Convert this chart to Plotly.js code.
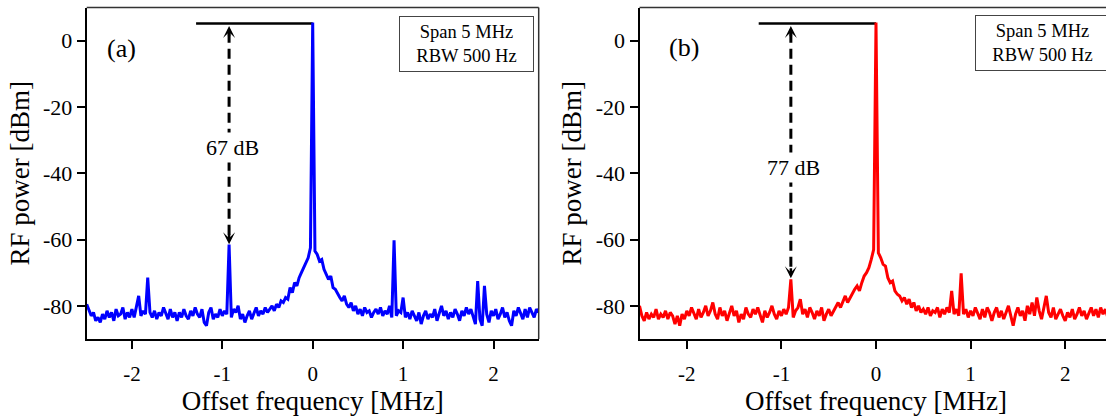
<!DOCTYPE html>
<html>
<head>
<meta charset="utf-8">
<script src="https://cdn.plot.ly/plotly-3.0.1.min.js"></script>
<style>
html,body{margin:0;padding:0;background:#fff;overflow:hidden;}
#chart{width:1114px;height:416px;}
</style>
</head>
<body>
<div id="chart"></div>
<script>
// Offset frequency grid [MHz]
const freq = [
-2.5,-2.475,-2.45,-2.425,-2.4,-2.375,-2.35,-2.325,-2.3,-2.275,
-2.25,-2.225,-2.2,-2.175,-2.15,-2.125,-2.1,-2.075,-2.05,-2.025,
-2.0,-1.975,-1.95,-1.925,-1.9,-1.875,-1.85,-1.825,-1.8,-1.775,
-1.75,-1.725,-1.7,-1.675,-1.65,-1.625,-1.6,-1.575,-1.55,-1.525,
-1.5,-1.475,-1.45,-1.425,-1.4,-1.375,-1.35,-1.325,-1.3,-1.275,
-1.25,-1.225,-1.2,-1.175,-1.15,-1.125,-1.1,-1.075,-1.05,-1.025,
-1.0,-0.975,-0.95,-0.925,-0.9,-0.875,-0.85,-0.825,-0.8,-0.775,
-0.75,-0.725,-0.7,-0.675,-0.65,-0.625,-0.6,-0.575,-0.55,-0.525,
-0.5,-0.475,-0.45,-0.425,-0.4,-0.375,-0.35,-0.325,-0.3,-0.275,
-0.25,-0.225,-0.2,-0.175,-0.15,-0.125,-0.1,-0.075,-0.05,-0.025,
0.0,0.025,0.05,0.075,0.1,0.125,0.15,0.175,0.2,0.225,
0.25,0.275,0.3,0.325,0.35,0.375,0.4,0.425,0.45,0.475,
0.5,0.525,0.55,0.575,0.6,0.625,0.65,0.675,0.7,0.725,
0.75,0.775,0.8,0.825,0.85,0.875,0.9,0.925,0.95,0.975,
1.0,1.025,1.05,1.075,1.1,1.125,1.15,1.175,1.2,1.225,
1.25,1.275,1.3,1.325,1.35,1.375,1.4,1.425,1.45,1.475,
1.5,1.525,1.55,1.575,1.6,1.625,1.65,1.675,1.7,1.725,
1.75,1.775,1.8,1.825,1.85,1.875,1.9,1.925,1.95,1.975,
2.0,2.025,2.05,2.075,2.1,2.125,2.15,2.175,2.2,2.225,
2.25,2.275,2.3,2.325,2.35,2.375,2.4,2.425,2.45,2.475,
2.5
];

// Panel (a) RF power [dBm]
const powerA = [
-79.5,-81.5,-83.0,-82.0,-84.5,-83.5,-85.0,-82.5,-84.0,-81.5,
-83.5,-82.0,-84.5,-81.0,-83.0,-82.5,-80.5,-84.0,-82.0,-83.5,
-81.0,-83.5,-80.5,-77.0,-83.0,-81.5,-82.5,-71.5,-82.0,-83.5,
-81.5,-84.0,-82.0,-83.0,-80.5,-82.5,-84.0,-81.0,-83.5,-82.0,
-84.5,-82.0,-83.5,-81.0,-83.0,-84.0,-81.5,-83.0,-80.5,-82.5,
-83.5,-81.0,-85.0,-86.0,-82.0,-80.5,-84.0,-82.5,-83.5,-81.0,
-83.0,-81.5,-82.5,-61.5,-83.5,-81.0,-82.0,-80.0,-84.0,-82.5,
-85.0,-83.0,-81.5,-84.0,-82.0,-80.5,-83.0,-81.5,-82.5,-80.5,
-82.0,-81.0,-80.0,-81.5,-79.5,-80.5,-78.5,-79.0,-77.5,-78.0,
-74.5,-76.0,-73.0,-74.0,-71.5,-70.0,-68.5,-67.0,-65.5,-62.5,
5.5,-63.5,-64.5,-66.5,-66.0,-69.0,-70.5,-72.0,-71.0,-74.5,
-75.0,-76.5,-77.5,-78.5,-77.0,-79.5,-80.5,-79.0,-81.5,-80.0,
-82.5,-81.0,-83.0,-80.5,-82.0,-81.5,-83.5,-82.0,-81.0,-82.5,
-80.5,-83.0,-81.5,-82.5,-80.0,-83.5,-60.2,-83.0,-81.5,-82.0,
-77.5,-83.5,-82.0,-84.0,-81.5,-83.0,-84.5,-82.0,-85.5,-83.0,
-81.5,-84.0,-82.5,-83.5,-81.0,-84.5,-82.0,-80.0,-83.0,-81.5,
-84.0,-82.0,-83.5,-81.0,-82.5,-84.5,-81.5,-83.0,-80.5,-82.5,
-81.0,-83.5,-85.5,-72.5,-84.0,-86.0,-74.0,-82.5,-85.0,-81.5,
-83.0,-81.0,-84.0,-82.5,-80.5,-83.5,-82.0,-84.5,-86.0,-81.5,
-83.0,-80.5,-82.5,-84.0,-81.0,-83.5,-80.5,-82.0,-83.5,-81.0,
-82.0
];

// Panel (b) RF power [dBm]
const powerB = [
-80.0,-83.0,-84.5,-82.0,-84.0,-82.5,-83.5,-81.0,-84.0,-82.5,
-83.5,-81.5,-84.0,-82.0,-83.0,-85.5,-83.0,-86.0,-82.5,-84.0,
-81.5,-83.0,-80.5,-82.5,-84.0,-81.0,-83.5,-82.0,-80.0,-83.0,
-81.5,-79.0,-82.5,-84.0,-80.5,-83.0,-81.5,-84.5,-82.0,-80.0,
-83.0,-81.5,-85.0,-82.5,-84.0,-80.5,-82.5,-83.5,-81.0,-82.5,
-80.5,-83.0,-85.0,-81.5,-83.5,-82.0,-80.0,-82.5,-84.0,-81.5,
-83.0,-81.0,-82.5,-80.5,-72.0,-83.5,-81.5,-80.5,-78.0,-82.5,
-81.0,-83.5,-80.5,-82.0,-84.0,-81.5,-83.0,-80.5,-84.5,-82.5,
-81.0,-83.0,-81.5,-80.0,-79.0,-80.5,-78.5,-77.0,-79.0,-77.5,
-76.5,-75.0,-74.0,-75.5,-73.0,-71.0,-70.0,-68.5,-66.0,-63.0,
5.5,-64.0,-65.5,-67.5,-68.0,-71.5,-73.0,-72.5,-75.5,-76.5,
-77.0,-78.5,-77.5,-79.5,-78.0,-80.5,-79.0,-81.5,-80.0,-82.0,
-81.0,-82.5,-80.5,-83.0,-81.5,-82.0,-80.5,-83.5,-81.0,-82.5,
-80.5,-82.0,-75.5,-82.5,-81.0,-83.0,-70.2,-82.5,-81.0,-83.5,
-81.5,-83.0,-80.5,-82.5,-84.0,-81.0,-83.5,-80.5,-82.0,-84.5,
-82.0,-80.5,-83.5,-81.5,-84.0,-82.0,-80.0,-83.0,-86.0,-82.5,
-80.5,-83.0,-81.5,-84.5,-80.0,-82.5,-79.0,-83.0,-77.5,-81.5,
-84.0,-80.5,-77.0,-82.0,-83.5,-80.5,-84.0,-82.5,-81.0,-83.0,
-84.5,-82.0,-83.5,-81.0,-84.0,-82.5,-80.5,-83.0,-81.5,-84.0,
-82.0,-80.5,-83.0,-81.0,-83.5,-80.5,-82.5,-81.0,-83.5,-80.5,
-82.0
];

// Annotation values
const carrierLevel = 5.2;            // dBm, carrier reference line
const refLineStart = [-1.29, -1.24]; // MHz, left end of the reference line
const spurFreq = [-0.925, -0.9];     // MHz, marked sideband
const spurTip = [-61.4, -71.7];      // dBm, lower arrow tip
const arrowTopTip = 4.4;             // dBm, upper arrow tip
const gapLabels = ['67 dB', '77 dB'];
const gapLabelLevel = [-32.3, -38.3];
const panelLabels = ['(a)', '(b)'];
const boxText = 'Span 5 MHz<br>RBW 500 Hz';
const xTicks = [-2, -1, 0, 1, 2];
const yTicks = [-80, -60, -40, -20, 0];
const xRange = [-2.5, 2.5];
const yRange = [-90, 10];
const traceColors = ['#0000ff', '#ff0000'];

const FONT = 'Liberation Serif, Times New Roman, serif';
const W = 1114;

const powers = [powerA, powerB];
const axNames = [['x', 'y'], ['x2', 'y2']];
const traces = [];
for (let p = 0; p < 2; p++) {
  const [xa, ya] = axNames[p];
  traces.push({x: [refLineStart[p], 0], y: [carrierLevel, carrierLevel], xaxis: xa, yaxis: ya,
    mode: 'lines', line: {color: '#000', width: 2.5}, hoverinfo: 'skip'});
  traces.push({x: [spurFreq[p], spurFreq[p]], y: [arrowTopTip - 2, spurTip[p] + 2], xaxis: xa, yaxis: ya,
    mode: 'lines', line: {color: '#000', width: 3, dash: '10px,6px'}, hoverinfo: 'skip'});
  traces.push({x: freq, y: powers[p], xaxis: xa, yaxis: ya, mode: 'lines',
    line: {color: traceColors[p], width: 3}});
}

function xAxis(domain, anchor) {
  return {domain: domain, anchor: anchor, range: xRange, tickvals: xTicks, ticktext: xTicks.map(String),
    showline: true, linecolor: '#000', linewidth: 2, ticks: 'outside', ticklen: 8, tickwidth: 2,
    tickcolor: '#000', showgrid: false, zeroline: false, automargin: false, ticklabelstandoff: 7,
    tickfont: {family: FONT, size: 21, color: '#000'},
    title: {text: 'Offset frequency [MHz]', font: {family: FONT, size: 27, color: '#000'}, standoff: 8}};
}
function yAxis(domain, anchor) {
  return {domain: domain, anchor: anchor, range: yRange, tickvals: yTicks, ticktext: yTicks.map(String),
    showline: true, linecolor: '#000', linewidth: 2, ticks: 'outside', ticklen: 8, tickwidth: 2,
    tickcolor: '#000', showgrid: false, zeroline: false, automargin: false,
    tickfont: {family: FONT, size: 22, color: '#000'},
    title: {text: 'RF power [dBm]', font: {family: FONT, size: 27, color: '#000'}, standoff: 6}};
}

const yDom = [(416 - 339) / 416, (416 - 7.5) / 416];
const layout = {
  width: W, height: 416,
  margin: {l: 0, r: 0, t: 0, b: 0},
  paper_bgcolor: '#fff', plot_bgcolor: '#fff',
  showlegend: false,
  font: {family: FONT, color: '#000'},
  xaxis: xAxis([86.7 / W, 538.7 / W], 'y'),
  yaxis: yAxis(yDom, 'x'),
  xaxis2: xAxis([639.5 / W, 1112.5 / W], 'y2'),
  yaxis2: yAxis(yDom, 'x2'),
  shapes: [],
  annotations: []
};

const labelPos = [[0.077, 0.875], [0.094, 0.878]];
const boxPos = [[0.691, 0.974], [0.7093, 0.977]];
for (let p = 0; p < 2; p++) {
  const xa = axNames[p][0], ya = axNames[p][1];
  // top and right frame
  layout.shapes.push({type: 'line', xref: xa + ' domain', yref: ya + ' domain', x0: 0, x1: 1, y0: 1, y1: 1,
    line: {color: '#333', width: 1.5}});
  layout.shapes.push({type: 'line', xref: xa + ' domain', yref: ya + ' domain', x0: 1, x1: 1, y0: 0, y1: 1,
    line: {color: '#333', width: 1.5}});
  // arrow heads
  layout.annotations.push({xref: xa, yref: ya, axref: xa, ayref: ya, x: spurFreq[p], y: arrowTopTip,
    ax: spurFreq[p], ay: arrowTopTip - 3.5, text: '', showarrow: true, arrowhead: 3, arrowsize: 0.8,
    arrowwidth: 2.5, arrowcolor: '#000'});
  layout.annotations.push({xref: xa, yref: ya, axref: xa, ayref: ya, x: spurFreq[p], y: spurTip[p],
    ax: spurFreq[p], ay: spurTip[p] + 3.5, text: '', showarrow: true, arrowhead: 3, arrowsize: 0.8,
    arrowwidth: 2.5, arrowcolor: '#000'});
  // gap label
  layout.annotations.push({xref: xa, yref: ya, x: spurFreq[p], y: gapLabelLevel[p], xshift: 3,
    text: gapLabels[p], showarrow: false, bgcolor: '#fff', borderpad: 2,
    font: {family: FONT, size: 22, color: '#000'}});
  // panel label
  layout.annotations.push({xref: xa + ' domain', yref: ya + ' domain', x: labelPos[p][0], y: labelPos[p][1],
    xanchor: 'center', yanchor: 'middle',
    text: panelLabels[p], showarrow: false, font: {family: FONT, size: 26, color: '#000'}});
  // info box
  layout.annotations.push({xref: xa + ' domain', yref: ya + ' domain', x: boxPos[p][0], y: boxPos[p][1],
    xanchor: 'left', yanchor: 'top', text: boxText, showarrow: false, align: 'center',
    width: 131, height: 52, borderpad: 1, borderwidth: 1, bordercolor: '#444', bgcolor: '#fff',
    font: {family: FONT, size: 18.5, color: '#000'}});
}

Plotly.newPlot('chart', traces, layout, {displayModeBar: false, staticPlot: true});
</script>
</body>
</html>
